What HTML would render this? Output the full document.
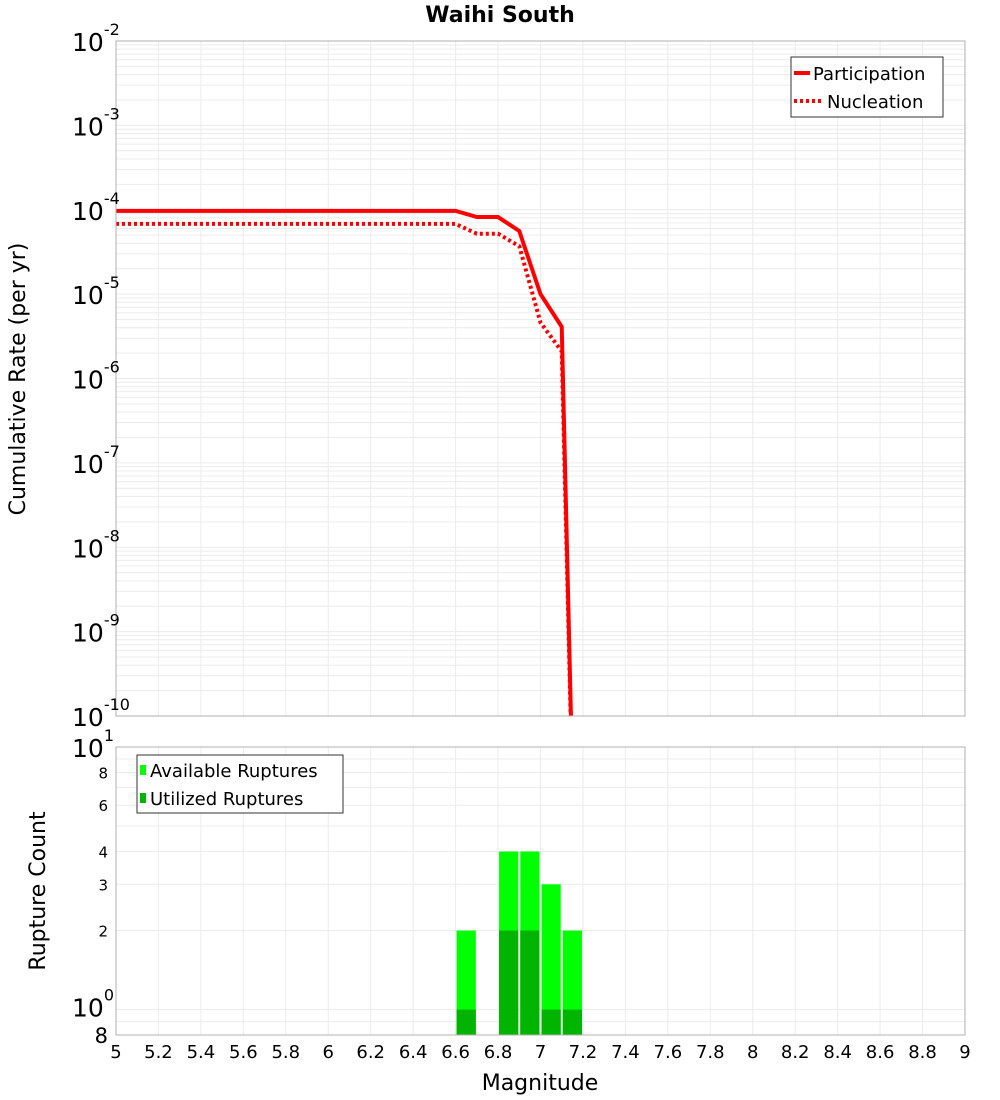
<!DOCTYPE html>
<html><head><meta charset="utf-8"><style>
html,body{margin:0;background:#fff;overflow:hidden;width:1000px;height:1100px;}
svg{display:block;font-family:"DejaVu Sans","Liberation Sans",sans-serif;}
</style></head><body>
<svg id="c" width="1000" height="1100"></svg>
<script>
const mags=[5,5.1,5.2,5.3,5.4,5.5,5.6,5.7,5.8,5.9,6,6.1,6.2,6.3,6.4,6.5,6.6,6.7,6.8,6.9,7.0,7.1,7.2];
const participation=[9.7e-5,9.7e-5,9.7e-5,9.7e-5,9.7e-5,9.7e-5,9.7e-5,9.7e-5,9.7e-5,9.7e-5,9.7e-5,9.7e-5,9.7e-5,9.7e-5,9.7e-5,9.7e-5,9.7e-5,8.2e-5,8.2e-5,5.6e-5,1.0e-5,4.1e-6,1e-16];
const nucleation=[6.8e-5,6.8e-5,6.8e-5,6.8e-5,6.8e-5,6.8e-5,6.8e-5,6.8e-5,6.8e-5,6.8e-5,6.8e-5,6.8e-5,6.8e-5,6.8e-5,6.8e-5,6.8e-5,6.8e-5,5.2e-5,5.2e-5,3.7e-5,4.6e-6,2.1e-6,1e-16];
const binStarts=[6.6,6.8,6.9,7.0,7.1];
const available=[2,4,4,3,2];
const utilized=[1,2,2,1,1];
const xTicks=[5,5.2,5.4,5.6,5.8,6,6.2,6.4,6.6,6.8,7,7.2,7.4,7.6,7.8,8,8.2,8.4,8.6,8.8,9];
const topExps=[-2,-3,-4,-5,-6,-7,-8,-9,-10];
const botTicks=[8,6,4,3,2];

const NS="http://www.w3.org/2000/svg";
const svg=document.getElementById('c');
function mk(t,a,p){const e=document.createElementNS(NS,t);for(const k in a)e.setAttribute(k,a[k]);(p||svg).appendChild(e);return e;}
const L=116,R=965,T1=41,B1=716,T2=747,B2=1035;
const X=m=>L+(m-5)/4*(R-L);
const Y1=v=>T1+(-2-Math.log10(v))*(B1-T1)/8;
const Y2=v=>T2+(1-Math.log10(v))*(B2-T2)/(1-Math.log10(0.8));

let t=mk('text',{x:500,y:22,'text-anchor':'middle','font-size':22,'font-weight':'bold'});t.textContent='Waihi South';


const g1=mk('g',{stroke:'#ececec','stroke-width':1});

for(let d=-10;d<-2;d++)for(let k=1;k<10;k++){const y=Y1(k*Math.pow(10,d));mk('line',{x1:L,x2:R,y1:y,y2:y},g1);}
xTicks.forEach(m=>{mk('line',{x1:X(m),x2:X(m),y1:T1,y2:B1},g1);});
const g2=mk('g',{stroke:'#ececec','stroke-width':1});

[0.8,0.9,1,2,3,4,5,6,7,8,9,10].forEach(v=>{const y=Y2(v);mk('line',{x1:L,x2:R,y1:y,y2:y},g2);});
xTicks.forEach(m=>{mk('line',{x1:X(m),x2:X(m),y1:T2,y2:B2},g2);});

const clip=mk('clipPath',{id:'cp'});mk('rect',{x:L,y:T1,width:R-L,height:B1-T1},clip);
function pts(a){return mags.map((m,i)=>X(m)+','+Y1(a[i])).join(' ');}
let pl=mk('polyline',{points:pts(participation),fill:'none',stroke:'#ff0000','stroke-width':4,'clip-path':'url(#cp)'});

let nl=mk('polyline',{points:pts(nucleation),fill:'none',stroke:'#ff0000','stroke-width':4,'stroke-dasharray':'3,3','clip-path':'url(#cp)'});


binStarts.forEach((m,i)=>{
  const x0=X(m)+1,w=X(m+0.1)-X(m)-2;
  let a=mk('rect',{x:x0,y:Y2(available[i]),width:w,height:B2-Y2(available[i]),fill:'#00ff00'});
  
  let u=mk('rect',{x:x0,y:Y2(utilized[i]),width:w,height:B2-Y2(utilized[i]),fill:'#00b400'});
  
});

let f1=mk('rect',{x:L,y:T1,width:R-L,height:B1-T1,fill:'none',stroke:'#b0b0b0'});

let f2=mk('rect',{x:L,y:T2,width:R-L,height:B2-T2,fill:'none',stroke:'#b0b0b0'});


topExps.forEach(e=>{
  const y=Y1(Math.pow(10,e));
  let tx=mk('text',{x:72,y:y+10,'font-size':25});
  
  tx.textContent='10';
  let s=mk('tspan',{'font-size':16,dy:-16},tx);s.textContent=e;
});
let b10=mk('text',{x:72,y:Y2(10)+10,'font-size':25});b10.textContent='10';

let bs=mk('tspan',{'font-size':16,dy:-16},b10);bs.textContent='1';
let b1=mk('text',{x:72,y:Y2(1)+7,'font-size':25});b1.textContent='10';

let bs1=mk('tspan',{'font-size':16,dy:-16},b1);bs1.textContent='0';
botTicks.forEach(v=>{let tx=mk('text',{x:108,y:Y2(v)+6,'font-size':15,'text-anchor':'end'});tx.textContent=v;
  });
let b08=mk('text',{x:108,y:B2+8,'font-size':21,'text-anchor':'end'});b08.textContent='8';


xTicks.forEach(m=>{let tx=mk('text',{x:X(m),y:1058,'font-size':18,'text-anchor':'middle'});tx.textContent=String(m);
  });

let xt=mk('text',{x:540,y:1090,'font-size':22,'text-anchor':'middle'});xt.textContent='Magnitude';

let yt=mk('text',{x:0,y:0,'font-size':22,'text-anchor':'middle',transform:'translate(25,379) rotate(-90)'});yt.textContent='Cumulative Rate (per yr)';

let yt2=mk('text',{x:0,y:0,'font-size':22,'text-anchor':'middle',transform:'translate(45,891) rotate(-90)'});yt2.textContent='Rupture Count';


const lg=mk('g',{});
mk('rect',{x:791,y:57,width:152,height:60,fill:'#fff',stroke:'#333'},lg);
mk('line',{x1:794,x2:810,y1:73,y2:73,stroke:'#f00','stroke-width':4},lg);
let l1=mk('text',{x:813,y:80,'font-size':18},lg);l1.textContent='Participation';
mk('line',{x1:794,x2:822,y1:101,y2:101,stroke:'#f00','stroke-width':4,'stroke-dasharray':'3,3'},lg);
let l2=mk('text',{x:827,y:108,'font-size':18},lg);l2.textContent='Nucleation';
const lb=mk('g',{});
mk('rect',{x:137,y:755,width:206,height:58,fill:'#fff',stroke:'#333'},lb);
mk('rect',{x:140,y:765,width:6,height:10,fill:'#00ff00'},lb);
let l3=mk('text',{x:150,y:777,'font-size':18},lb);l3.textContent='Available Ruptures';
mk('rect',{x:140,y:793,width:6,height:10,fill:'#00b400'},lb);
let l4=mk('text',{x:150,y:805,'font-size':18},lb);l4.textContent='Utilized Ruptures';
</script>
</body></html>
